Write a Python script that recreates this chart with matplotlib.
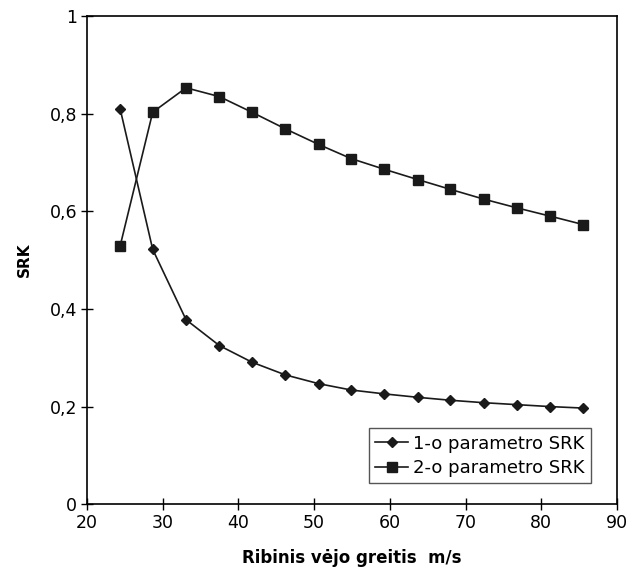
import numpy as np
import matplotlib.pyplot as plt
from matplotlib.ticker import FuncFormatter

plt.rcParams['font.family'] = ['DejaVu Sans']

# wind speed points
speed = [24.4, 28.7, 33.1, 37.5, 41.8, 46.2, 50.6, 54.9, 59.3, 63.7, 68.0, 72.4, 76.8, 81.2, 85.5]
srk1 = [0.810, 0.522, 0.378, 0.325, 0.291, 0.265, 0.247, 0.234, 0.226, 0.219,
        0.213, 0.208, 0.204, 0.200, 0.197]
srk2 = [0.529, 0.803, 0.853, 0.835, 0.803, 0.769, 0.737, 0.708, 0.686, 0.665,
        0.645, 0.625, 0.607, 0.590, 0.573]

fig = plt.figure(figsize=(6.29, 5.73), dpi=100)
ax = fig.add_axes([0.138, 0.120, 0.843, 0.852])

ax.plot(speed, srk1, color='#1a1a1a', lw=1.2, marker='D', ms=5.5, label='1-o parametro SRK')
ax.plot(speed, srk2, color='#1a1a1a', lw=1.2, marker='s', ms=7, label='2-o parametro SRK')

ax.set_xlim(20, 90)
ax.set_ylim(0, 1)
ax.set_xticks(np.arange(20, 91, 10))
ax.set_yticks(np.arange(0, 1.01, 0.2))
ax.yaxis.set_major_formatter(FuncFormatter(lambda v, p: '0' if v == 0 else ('1' if v == 1 else ('%.1f' % v).replace('.', ','))))
ax.tick_params(direction='inout', length=8, width=1, labelsize=12.5, pad=3)
for s in ax.spines.values():
    s.set_linewidth(1.2)

ax.set_xlabel('Ribinis vėjo greitis  m/s', fontsize=12, fontweight='bold', labelpad=12)
ax.set_ylabel('SRK', fontsize=11, fontweight='bold', labelpad=13)

leg = ax.legend(loc='lower right', bbox_to_anchor=(0.951, 0.043), borderaxespad=0,
                fontsize=13, fancybox=False, framealpha=1, edgecolor='#555555',
                handlelength=1.8, handletextpad=0.3, borderpad=0.35, labelspacing=0.35)
leg.get_frame().set_linewidth(1.0)

plt.savefig('out.png')
